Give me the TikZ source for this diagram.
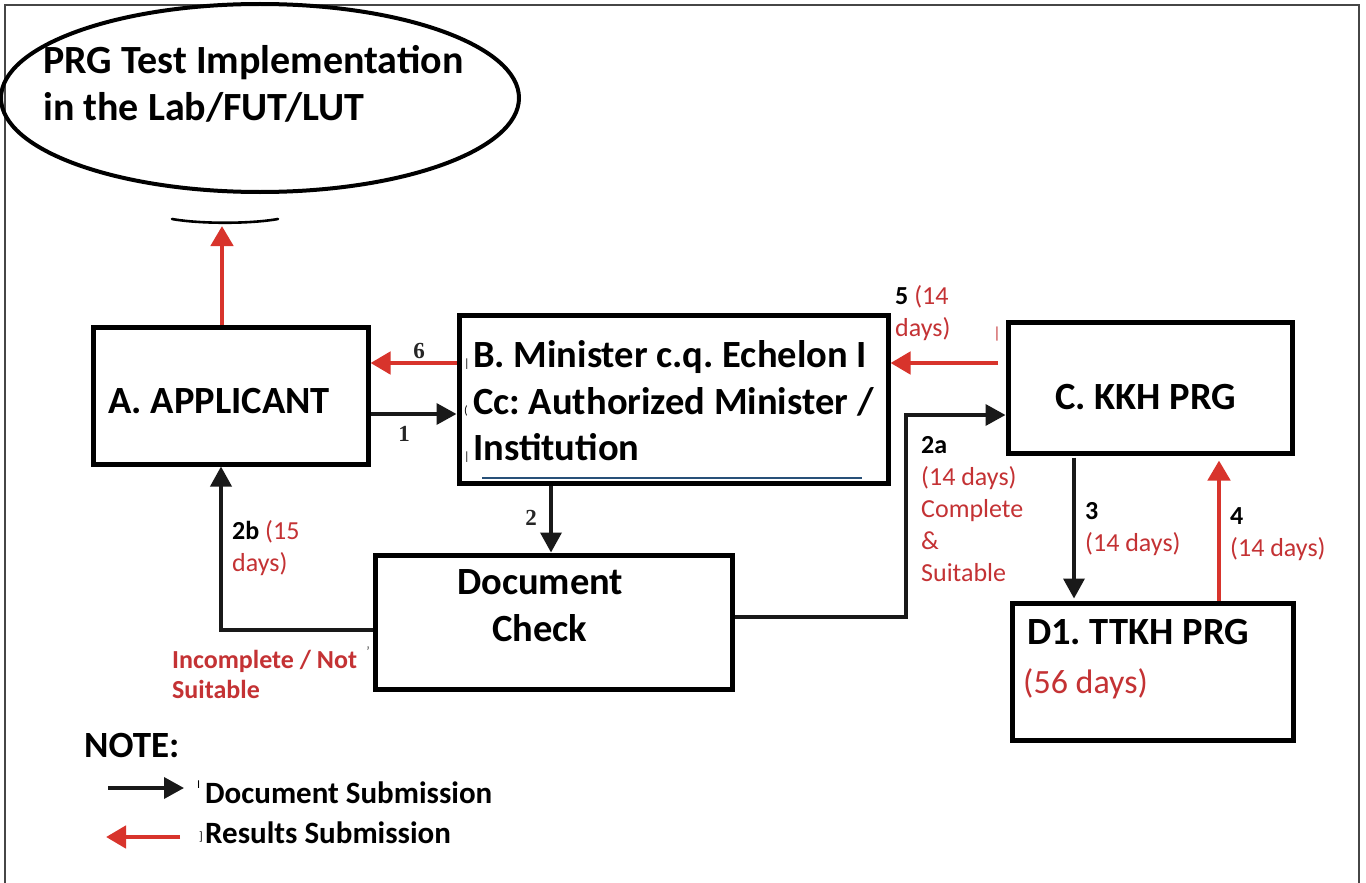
\documentclass[tikz,border=0pt]{standalone}
\usepackage{fontspec}
\setmainfont{Carlito}
\newfontfamily\numserif{Liberation Serif}
\usetikzlibrary{arrows.meta,shapes.geometric}
\definecolor{redarrow}{RGB}{216,52,44}
\definecolor{redtext}{RGB}{196,50,52}
\definecolor{framegray}{RGB}{70,70,70}
\definecolor{lineblue}{RGB}{40,80,120}
\begin{document}
\frenchspacing
\begin{tikzpicture}[x=1pt,y=-1pt,
  box/.style={draw=black, line width=5pt, rectangle, inner sep=0pt},
  bigtxt/.style={font=\fontsize{38.5}{46.5}\selectfont\bfseries, inner sep=0pt, anchor=base west},
  legtxt/.style={font=\fontsize{31}{38}\selectfont\bfseries, inner sep=0pt, anchor=base west},
  lbl/.style={font=\fontsize{26}{32}\selectfont, inner sep=0pt, anchor=base west},
  redlbl/.style={lbl, text=redtext},
  numlbl/.style={font=\fontsize{23}{26}\selectfont\numserif\bfseries, text=black!85, inner sep=0pt},
  tinymark/.style={font=\fontsize{12}{12}\selectfont, inner sep=0pt, anchor=base west},
  blkarr/.style={draw=black!90, line width=3.6pt, -{Triangle[length=20pt,width=21pt]}},
  redarr/.style={draw=redarrow, line width=4.6pt, -{Triangle[length=20pt,width=22pt]}}
]
\useasboundingbox (0,0) rectangle (1366,883);
\fill[white] (0,0) rectangle (1366,883);
% outer frame (top, left, right)
\draw[framegray, line width=2pt] (5,883) -- (5,5) -- (1359,5) -- (1359,883);

% ellipse
\node[draw=black, ellipse, line width=4pt, minimum width=518pt, minimum height=188pt, inner sep=0pt] (E) at (260,98) {};
\node[bigtxt, font=\fontsize{40}{46}\selectfont\bfseries] (Et1) at (43,74) {PRG Test Implementation};
\node[bigtxt, font=\fontsize{40}{46}\selectfont\bfseries] (Et2) at (43,120) {in the Lab/FUT/LUT};
% arc fragment under the ellipse
\coordinate (arcL) at (172,219);
\coordinate (arcR) at (278,219);
\coordinate (arcm) at (222,226);
\draw[black, line width=2.6pt, line cap=round] (arcL) .. controls (200,224) and (250,224) .. (arcR);

% boxes
\node[box, minimum width=275pt, minimum height=137pt] (A) at (230.5,395.5) {};
\node[bigtxt] (At) at (108,413) {A. APPLICANT};

\node[box, minimum width=429pt, minimum height=168pt] (B) at (673.5,399) {};
\node[bigtxt] (Bt1) at (473,367) {B. Minister c.q. Echelon I};
\node[bigtxt] (Bt2) at (473,414) {Cc: Authorized Minister /};
\node[bigtxt] (Bt3) at (473,460) {Institution};
\node[tinymark] (Bm1) at (464,367) {|};
\node[tinymark] (Bm2) at (464,414) {(};
\node[tinymark] (Bm3) at (464,460) {|};
\coordinate (bl1) at (482,478);
\coordinate (bl2) at (862,478);
\draw[lineblue, line width=1.6pt] (bl1) -- (bl2);

\node[box, minimum width=284pt, minimum height=131pt] (C) at (1150,387.5) {};
\node[bigtxt] (Ct) at (1055,409) {C. KKH PRG};
\node[font=\fontsize{16}{16}\selectfont, text=redtext, inner sep=0pt] (Cm) at (997,334) {|};

\node[box, minimum width=281pt, minimum height=137pt] (D) at (1152.5,671.5) {};
\node[bigtxt] (Dt) at (1027,644) {D1. TTKH PRG};
\node[font=\fontsize{34}{40}\selectfont, text=redtext, inner sep=0pt, anchor=base west] (Dd) at (1023,693) {(56 days)};

\node[box, minimum width=357pt, minimum height=134pt] (Doc) at (553.5,622) {};
\node[bigtxt] (Doct1) at (457,594) {Document};
\node[bigtxt] (Doct2) at (492,641) {Check};

% connectors
\draw[redarr] (A.north -| arcm) -- (arcm);
\draw[redarr] (B.west |- 0,363) -- (A.east |- 0,363);
\draw[blkarr] (A.east |- 0,414) -- (B.west |- 0,414);
\draw[blkarr] (B.south -| 551,0) -- (Doc.north -| 551,0);
\draw[blkarr] (Doc.east |- 0,617) -- (906,617) -- (906,415) -- (C.west |- 0,415);
\draw[blkarr] (Doc.west |- 0,630) -- (221,630) -- (A.south -| 221,0);
\coordinate (c5) at (998,363);
\draw[redarr] (c5) -- (B.east |- c5);
\draw[blkarr, shorten <=2pt, shorten >=2pt] (C.south -| 1074,0) -- (D.north -| 1074,0);
\draw[redarr, shorten >=5pt] (D.north -| 1219,0) -- (C.south -| 1219,0);

% connector labels
\node[numlbl] (n6) at (419,351) {6};
\node[numlbl] (n1) at (404,434) {1};
\node[numlbl] (n2) at (531,518) {2};
\node[lbl] (l5a) at (895,304) {\textbf{5} \textcolor{redtext}{(14}};
\node[redlbl] (l5b) at (895,336) {days)};
\node[lbl, font=\fontsize{26}{32}\selectfont\bfseries] (l2a) at (921,453) {2a};
\node[redlbl] (l2a1) at (921,485) {(14 days)};
\node[redlbl] (l2a2) at (921,517) {Complete};
\node[redlbl] (l2a3) at (921,549) {\&};
\node[redlbl] (l2a4) at (921,581) {Suitable};
\node[lbl, font=\fontsize{26}{32}\selectfont\bfseries] (l3) at (1085,519) {3};
\node[redlbl] (l3b) at (1085,551) {(14 days)};
\node[lbl, font=\fontsize{26}{32}\selectfont\bfseries] (l4) at (1230,524) {4};
\node[redlbl] (l4b) at (1230,556) {(14 days)};
\node[lbl] (l2b) at (232,539) {\textbf{2b} \textcolor{redtext}{(15}};
\node[redlbl] (l2bb) at (232,571) {days)};
\node[redlbl, font=\fontsize{26}{30}\selectfont\bfseries] (linc1) at (172,668) {Incomplete / Not};
\node[redlbl, font=\fontsize{26}{30}\selectfont\bfseries] (linc2) at (172,698) {Suitable};
\node[font=\fontsize{14}{14}\selectfont, inner sep=0pt, text=black!70] (incm) at (368,652) {'};

% legend
\node[font=\fontsize{37}{44}\selectfont\bfseries, inner sep=0pt, anchor=base west] (note) at (84,757) {NOTE:};
\coordinate (l1s) at (108,788);
\coordinate (l1e) at (184,788);
\coordinate (l2s) at (180,837);
\coordinate (l2e) at (106,837);
\draw[blkarr] (l1s) -- (l1e);
\draw[redarr] (l2s) -- (l2e);
\node[legtxt] (leg1) at (205,803) {Document Submission};
\node[legtxt] (leg2) at (205,843) {Results Submission};
\node[tinymark] (lm1) at (197,788) {I};
\node[tinymark] (lm2) at (199,840) {]};
\end{tikzpicture}
\end{document}
